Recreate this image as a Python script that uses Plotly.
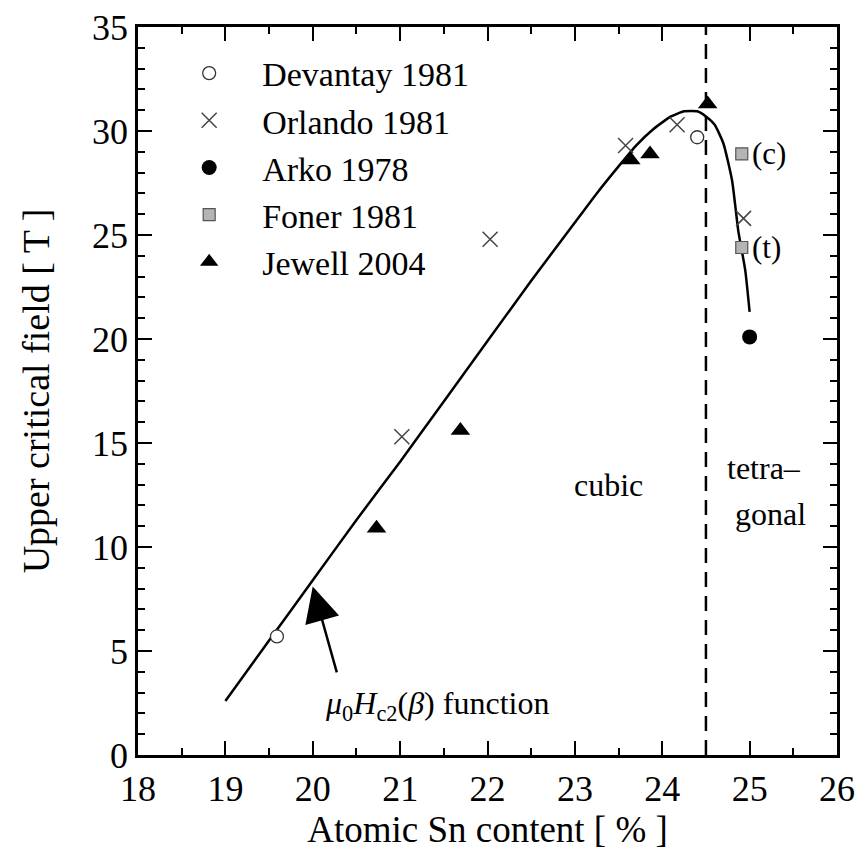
import plotly.graph_objects as go

# ---- data ----
devantay_x = [19.59, 24.40]
devantay_y = [5.7, 29.7]

orlando_x = [21.02, 22.03, 23.58, 24.17, 24.93]
orlando_y = [15.3, 24.8, 29.3, 30.3, 25.8]

arko_x = [25.0]
arko_y = [20.1]

foner_x = [24.91, 24.91]
foner_y = [28.9, 24.4]
foner_labels = ["(c)", "(t)"]

jewell_x = [20.73, 21.69, 23.64, 23.86, 24.52]
jewell_y = [10.9, 15.6, 28.6, 28.9, 31.3]

curve_x = [19.0, 19.5, 20.0, 20.5, 21.0, 21.5, 22.0, 22.5, 23.0, 23.25, 23.5,
           23.7, 23.9, 24.1, 24.25, 24.4, 24.5, 24.6, 24.7, 24.8, 24.87, 24.95, 25.0]
curve_y = [2.6, 5.5, 8.4, 11.3, 14.1, 17.0, 19.9, 22.8, 25.6, 27.0, 28.3,
           29.3, 30.1, 30.7, 30.95, 30.95, 30.7, 30.3, 29.4, 27.6, 25.2, 23.3, 21.3]

phase_boundary = 24.5

x_range = [18, 26]
y_range = [0, 35]
x_ticks = [18, 19, 20, 21, 22, 23, 24, 25, 26]
y_ticks = [0, 5, 10, 15, 20, 25, 30, 35]

FONT = "Liberation Serif"

fig = go.Figure()

# fitted function
fig.add_trace(go.Scatter(x=curve_x, y=curve_y, mode="lines",
                         line=dict(color="black", width=2.5, shape="spline", smoothing=0.5),
                         showlegend=False, hoverinfo="skip"))

# phase boundary
fig.add_trace(go.Scatter(x=[phase_boundary, phase_boundary], y=y_range, mode="lines",
                         line=dict(color="black", width=2.5, dash="15px,9px"),
                         showlegend=False, hoverinfo="skip"))

fig.add_trace(go.Scatter(x=devantay_x, y=devantay_y, mode="markers", name="Devantay 1981",
                         marker=dict(symbol="circle", size=13, color="white",
                                     line=dict(color="#333333", width=1.3))))
fig.add_trace(go.Scatter(x=orlando_x, y=orlando_y, mode="markers", name="Orlando 1981",
                         marker=dict(symbol="x-thin", size=15,
                                     line=dict(color="#444444", width=1.5))))
fig.add_trace(go.Scatter(x=arko_x, y=arko_y, mode="markers", name="Arko 1978",
                         marker=dict(symbol="circle", size=15, color="black")))
fig.add_trace(go.Scatter(x=foner_x, y=foner_y, mode="markers", name="Foner 1981",
                         marker=dict(symbol="square", size=12, color="#b4b4b4",
                                     line=dict(color="#555555", width=1.2))))
fig.add_trace(go.Scatter(x=jewell_x, y=jewell_y, mode="markers", name="Jewell 2004",
                         marker=dict(symbol="triangle-up", size=17, color="black")))

# labels for Foner points
for fx, fy, lab in zip(foner_x, foner_y, foner_labels):
    fig.add_annotation(x=fx, y=fy, text=lab, showarrow=False, xanchor="left",
                       xshift=8, font=dict(family=FONT, size=31, color="black"))

# phase labels
fig.add_annotation(x=23.38, y=13.0, text="cubic", showarrow=False,
                   font=dict(family=FONT, size=32, color="black"))
fig.add_annotation(x=25.17, y=13.8, text="tetra–", showarrow=False,
                   font=dict(family=FONT, size=32, color="black"))
fig.add_annotation(x=25.24, y=11.6, text="gonal", showarrow=False,
                   font=dict(family=FONT, size=32, color="black"))

# function label and arrow
fig.add_annotation(x=21.42, y=2.4, showarrow=False,
                   text="<i>μ</i><sub>0</sub><i>H</i><sub>c2</sub>(<i>β</i>) function",
                   font=dict(family=FONT, size=32, color="black"))
fig.add_annotation(x=20.0, y=8.1, ax=20.28, ay=3.9, axref="x", ayref="y",
                   text="", showarrow=True, arrowhead=2, arrowsize=2.8,
                   arrowwidth=2.5, arrowcolor="black")

axis_common = dict(showline=True, linecolor="black", linewidth=2.5, mirror="ticks",
                   ticks="inside", ticklen=14, tickwidth=2, tickcolor="black",
                   showgrid=False, zeroline=False, automargin=False,
                   ticklabeloverflow="allow",
                   tickfont=dict(family=FONT, size=36, color="black"))

fig.update_xaxes(range=x_range, tickvals=x_ticks, **axis_common,
                 minor=dict(dtick=0.5, ticklen=7, tickwidth=2, ticks="inside", tickcolor="black"),
                 title=dict(text="Atomic Sn content [ % ]", standoff=0,
                            font=dict(family=FONT, size=37, color="black")))
fig.update_yaxes(range=y_range, tickvals=y_ticks, **axis_common,
                 minor=dict(dtick=1, ticklen=7, tickwidth=2, ticks="inside", tickcolor="black"),
                 title=dict(text="Upper critical field [ T ]", standoff=31,
                            font=dict(family=FONT, size=38, color="black")))

# the page body adds an 8px offset, so the figure is drawn 8px smaller
fig.update_layout(
    width=857, height=843,
    margin=dict(l=130, r=28, t=19, b=96),
    plot_bgcolor="white", paper_bgcolor="white",
    legend=dict(x=0.026, y=0.976, xanchor="left", yanchor="top",
                bgcolor="rgba(0,0,0,0)", itemwidth=96,
                font=dict(family=FONT, size=34, color="black"),
                tracegroupgap=0),
)

fig.write_html("out.html")
